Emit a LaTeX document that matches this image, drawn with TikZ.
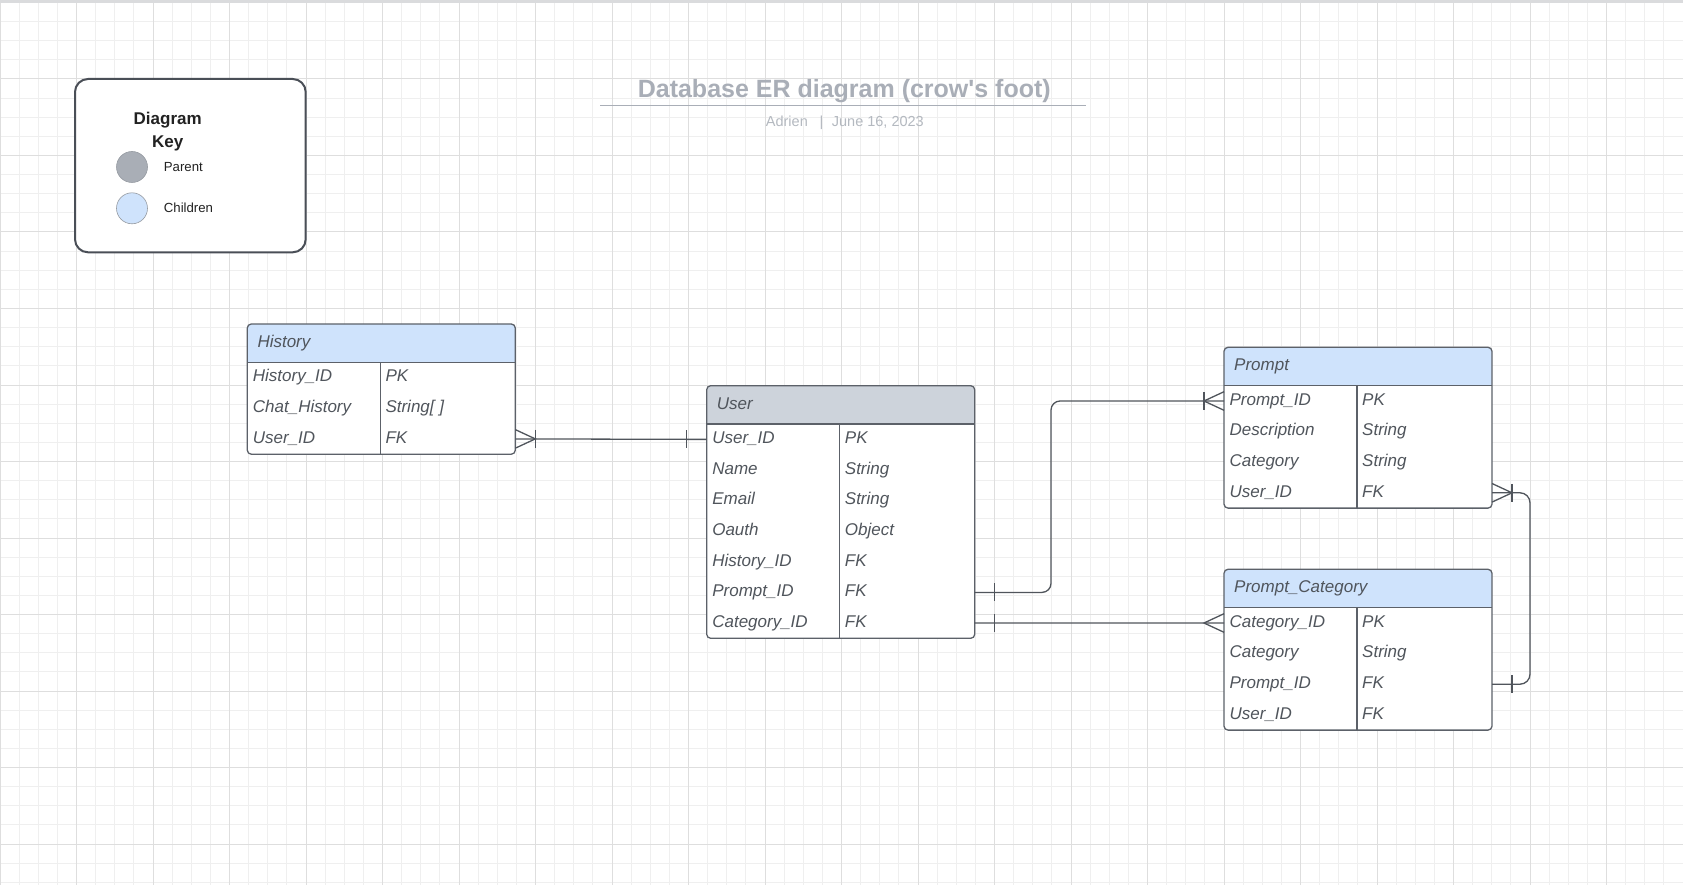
\documentclass[tikz,border=0pt]{standalone}
\usepackage{fontspec}
\setmainfont{Liberation Sans}
\newfontfamily\plainsans{Liberation Sans}
\usetikzlibrary{calc}
\definecolor{gridminor}{HTML}{EFEFEF}
\definecolor{gridmajor}{HTML}{DEDEDE}
\definecolor{topband}{HTML}{DADBDD}
\definecolor{boxline}{HTML}{5C6169}
\definecolor{connline}{HTML}{50555C}
\definecolor{txt}{HTML}{50555C}
\definecolor{childblue}{HTML}{CFE3FC}
\definecolor{usergray}{HTML}{CDD3DB}
\definecolor{dotgray}{HTML}{A9AEB6}
\definecolor{dotline}{HTML}{969BA2}
\definecolor{titlegray}{HTML}{A9AEB7}
\definecolor{subgray}{HTML}{B4B9C0}
\definecolor{keyline}{HTML}{4A4F57}
\definecolor{keytxt}{HTML}{222222}
\tikzset{
  tablebox/.style={draw=boxline, line width=1.3pt, rounded corners=4pt, fill=white, inner sep=0pt, outer sep=0pt, minimum width=268pt},
  rowbox/.style={inner sep=0pt, outer sep=0pt, minimum width=268pt, minimum height=30.6pt},
  cell/.style={inner sep=0pt, text=txt, font=\fontsize{17}{20}\selectfont\itshape},
  conn/.style={draw=connline, line width=1.3pt},
  keybox/.style={draw=keyline, line width=2pt, rounded corners=13pt, fill=white, inner sep=0pt, outer sep=0pt},
  keytitle/.style={inner sep=0pt, text=keytxt, font=\fontsize{17}{20}\selectfont\bfseries},
  keylabel/.style={inner sep=0pt, text=keytxt, font=\fontsize{13.2}{16}\selectfont},
  keydot/.style={circle, minimum size=31pt, inner sep=0pt, draw=dotline, line width=0.6pt},
  titletext/.style={inner sep=0pt, text=titlegray, font=\plainsans\fontsize{25}{30}\selectfont\bfseries},
  subtext/.style={inner sep=0pt, text=subgray, font=\fontsize{14.5}{17}\selectfont},
}
\newcommand{\ertable}[7]{%
  \node[tablebox, anchor=north west, minimum height={38.4pt+#6*30.6pt},
    path picture={\fill[#4, sharp corners] (path picture bounding box.north west) rectangle ([yshift=-38.4pt]path picture bounding box.north east);}] (#1) at (#2,#3) {};
  \draw[boxline, line width=1.3pt] ([yshift=-38.4pt]#1.north west) -- ([yshift=-38.4pt]#1.north east);
  \draw[boxline, line width=1.3pt] ([xshift=133pt,yshift=-38.4pt]#1.north west) -- ([xshift=133pt]#1.south west);
  \node[cell, anchor=base west] (#1-title) at ({#2+10},{#3+23.6}) {#5};
  \foreach \a/\b [count=\i] in {#7} {
    \node[rowbox] (#1-r\i) at ({#2+134},{#3+38.4+(\i-0.5)*30.6}) {};
    \node[cell, anchor=base west] (#1-a\i) at ({#2+5.4},{#3+38.4+(\i-0.5)*30.6+4.2}) {\a};
    \node[cell, anchor=base west] (#1-b\i) at ({#2+138},{#3+38.4+(\i-0.5)*30.6+4.2}) {\b};
  }%
}
\newcommand{\footat}[2]{\draw[conn] ([yshift=9.3pt]#1) -- ([xshift=#2*20pt]#1) -- ([yshift=-9.3pt]#1);}
\newcommand{\barat}[2]{\draw[conn] ([xshift=#2*20pt,yshift=9pt]#1) -- ([xshift=#2*20pt,yshift=-9pt]#1);}
\begin{document}
\begin{tikzpicture}[x=1pt,y=-1pt]
\useasboundingbox (0,0) rectangle (1683,885);
\fill[white] (0,0) rectangle (1683,885);
% grid
\foreach \i in {0,...,88} \draw[gridminor, line width=1pt] ({\i*19.125},0) -- ({\i*19.125},885);
\foreach \j in {0,...,46} \draw[gridminor, line width=1pt] (0,{2.5+\j*19.125}) -- (1683,{2.5+\j*19.125});
\foreach \i in {0,4,...,88} \draw[gridmajor, line width=1pt] ({\i*19.125},0) -- ({\i*19.125},885);
\foreach \j in {0,4,...,44} \draw[gridmajor, line width=1pt] (0,{2.5+\j*19.125}) -- (1683,{2.5+\j*19.125});
\fill[topband] (0,0) rectangle (1683,3);
% title
\node[titletext, anchor=base] (title) at (844.3,97.5) {Database ER diagram (crow's foot)};
\coordinate (ula) at (600,105.7);
\coordinate (ulb) at (1086,105.7);
\draw[titlegray, line width=1.5pt] (ula) -- (ulb);
\node[subtext, anchor=base west] (author) at (765.7,126.2) {Adrien};
\node[subtext, anchor=base] (sep) at (821.5,126.2) {|};
\node[subtext, anchor=base west] (date) at (831.7,126.2) {June 16, 2023};
% key
\node[keybox, minimum width=230.7pt, minimum height=173.3pt, anchor=north west] (key) at (75,79) {};
\node[keytitle, anchor=base] (keyt1) at (167.7,124.3) {Diagram};
\node[keytitle, anchor=base] (keyt2) at (167.7,147.3) {Key};
\node[keydot, fill=dotgray] (pdot) at (132,167) {};
\node[keydot, fill=childblue] (cdot) at (132,208.3) {};
\node[keylabel, anchor=base west] (plabel) at (163.7,171.4) {Parent};
\node[keylabel, anchor=base west] (clabel) at (163.7,212.7) {Children};
% tables
\ertable{history}{247.3}{324}{childblue}{History}{3}{History\_ID/PK, Chat\_History/String[ ], User\_ID/FK}
\ertable{user}{706.7}{385.7}{usergray}{User}{7}{User\_ID/PK, Name/String, Email/String, Oauth/Object, History\_ID/FK, Prompt\_ID/FK, Category\_ID/FK}
\ertable{prompt}{1224}{347.3}{childblue}{Prompt}{4}{Prompt\_ID/PK, Description/String, Category/String, User\_ID/FK}
\ertable{pcat}{1224}{569.3}{childblue}{Prompt\_Category}{4}{Category\_ID/PK, Category/String, Prompt\_ID/FK, User\_ID/FK}
% connectors
\draw[conn] (history-r3.east) -- (user-r1.west);
\footat{history-r3.east}{1}
\barat{history-r3.east}{1}
\barat{user-r1.west}{-1}
\draw[conn, rounded corners=9pt] (user-r6.east) -- ++(76.3,0) |- (prompt-r1.west);
\barat{user-r6.east}{1}
\footat{prompt-r1.west}{-1}
\barat{prompt-r1.west}{-1}
\draw[conn] (user-r7.east) -- (pcat-r1.west);
\barat{user-r7.east}{1}
\footat{pcat-r1.west}{-1}
\draw[conn, rounded corners=10pt] (prompt-r4.east) -- ++(38,0) |- (pcat-r3.east);
\footat{prompt-r4.east}{1}
\barat{prompt-r4.east}{1}
\barat{pcat-r3.east}{1}
\end{tikzpicture}
\end{document}
